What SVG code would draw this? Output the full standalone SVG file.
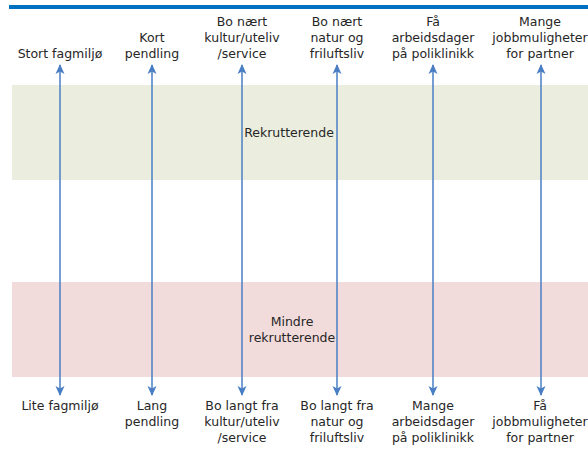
<svg xmlns="http://www.w3.org/2000/svg" width="588" height="450" viewBox="0 0 588 450">
  <style>
    .t { font-family: "DejaVu Sans", "Liberation Sans", sans-serif; font-size: 12.5px; fill: #262626; text-anchor: middle; }
    .arr { stroke: #4a7ec4; stroke-width: 1.5; fill: none; marker-start: url(#head); marker-end: url(#head); }
  </style>
  <defs>
    <marker id="head" viewBox="0 0 10 10" refX="9" refY="5" markerWidth="10" markerHeight="10" markerUnits="userSpaceOnUse" orient="auto-start-reverse">
      <path d="M0,0.5 L10,5 L0,9.5 L2.5,5 Z" fill="#4a7ec4"/>
    </marker>
  </defs>
  <rect x="0" y="0" width="588" height="450" fill="#ffffff"/>
  <rect id="topbar" x="9" y="5" width="579" height="4" fill="#0070c0"/>

  <g id="band-rekrutterende">
    <rect x="12" y="85" width="576" height="95" fill="#ebeedf"/>
  </g>
  <g id="band-mindre">
    <rect x="12" y="282" width="576" height="95" fill="#f2dbdb"/>
  </g>

  <g id="connectors">
    <line class="arr" x1="60" y1="65" x2="60" y2="395"/>
    <line class="arr" x1="152" y1="65" x2="152" y2="395"/>
    <line class="arr" x1="242" y1="65" x2="242" y2="395"/>
    <line class="arr" x1="337" y1="65" x2="337" y2="395"/>
    <line class="arr" x1="433" y1="65" x2="433" y2="395"/>
    <line class="arr" x1="541" y1="65" x2="541" y2="395"/>
  </g>

  <g id="label-rekrutterende"><text class="t" x="289" y="137">Rekrutterende</text></g>
  <g id="label-mindre"><text class="t" x="292" y="326">Mindre</text><text class="t" x="292" y="342">rekrutterende</text></g>

  <g id="top-fagmiljo"><text class="t" x="60" y="58">Stort fagmiljø</text></g>
  <g id="top-pendling"><text class="t" x="152" y="42">Kort</text><text class="t" x="152" y="58">pendling</text></g>
  <g id="top-kultur"><text class="t" x="242" y="26">Bo nært</text><text class="t" x="242" y="42">kultur/uteliv</text><text class="t" x="242" y="58">/service</text></g>
  <g id="top-natur"><text class="t" x="337" y="26">Bo nært</text><text class="t" x="337" y="42">natur og</text><text class="t" x="337" y="58">friluftsliv</text></g>
  <g id="top-poliklinikk"><text class="t" x="433" y="26">Få</text><text class="t" x="433" y="42">arbeidsdager</text><text class="t" x="433" y="58">på poliklinikk</text></g>
  <g id="top-partner"><text class="t" x="540" y="26">Mange</text><text class="t" x="540" y="42">jobbmuligheter</text><text class="t" x="540" y="58">for partner</text></g>

  <g id="bottom-fagmiljo"><text class="t" x="60" y="410">Lite fagmiljø</text></g>
  <g id="bottom-pendling"><text class="t" x="152" y="410">Lang</text><text class="t" x="152" y="426">pendling</text></g>
  <g id="bottom-kultur"><text class="t" x="242" y="410">Bo langt fra</text><text class="t" x="242" y="426">kultur/uteliv</text><text class="t" x="242" y="442">/service</text></g>
  <g id="bottom-natur"><text class="t" x="337" y="410">Bo langt fra</text><text class="t" x="337" y="426">natur og</text><text class="t" x="337" y="442">friluftsliv</text></g>
  <g id="bottom-poliklinikk"><text class="t" x="433" y="410">Mange</text><text class="t" x="433" y="426">arbeidsdager</text><text class="t" x="433" y="442">på poliklinikk</text></g>
  <g id="bottom-partner"><text class="t" x="540" y="410">Få</text><text class="t" x="540" y="426">jobbmuligheter</text><text class="t" x="540" y="442">for partner</text></g>
</svg>
